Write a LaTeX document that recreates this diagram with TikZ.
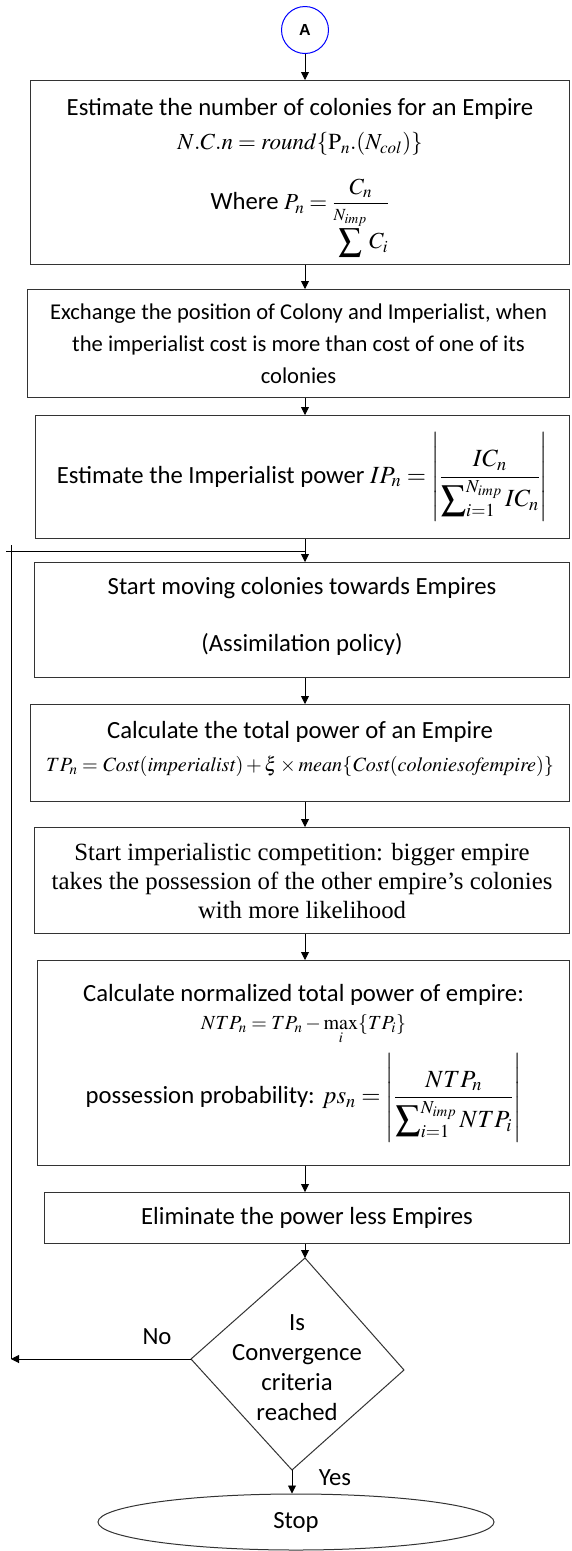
\documentclass[tikz,border=0pt]{standalone}
\usepackage{amsmath}
\usepackage{mathptmx}
\usepackage[no-math]{fontspec}
\setmainfont{Carlito}
\newfontfamily\timesfont{Liberation Serif}
\newfontfamily\arialfont{Liberation Sans}
\usepackage{graphicx}
\usetikzlibrary{shapes.geometric,arrows.meta}
\tikzset{
  box/.style={draw=black!80, line width=1.1pt, rectangle, anchor=north west, align=center, inner sep=0pt,
    font=\fontsize{24.7}{31}\selectfont},
  arr/.style={draw=black, line width=0.9pt, -{Triangle[length=8pt,width=8pt]}},
  ln/.style={draw=black, line width=0.9pt},
  lbl/.style={font=\fontsize{24.7}{28}\selectfont, inner sep=0pt},
}
\begin{document}
\begin{tikzpicture}[x=1pt,y=-1pt]
\useasboundingbox (0,0) rectangle (571,1551);
\fill[white] (0,0) rectangle (571,1551);

\node[circle, draw=blue, line width=1pt, minimum size=47pt, inner sep=0pt,
  font=\arialfont\bfseries\fontsize{16}{16}\selectfont] (A) at (305,30) {A};

\node[box, minimum width=539pt, minimum height=184pt] (b1) at (30,80)
  {\rule{0pt}{28pt}Estimate the number of colonies for an Empire\\[3pt]
   {\fontsize{23}{28}\selectfont$N.C.n = round\{\mathrm{P}_n.(N_{col})\}$}\\[22pt]
   Where {\fontsize{23}{28}\selectfont$P_n = \dfrac{C_n}{\displaystyle\sum^{N_{imp}} C_i}$}};

\node[box, minimum width=542pt, minimum height=108pt, font=\fontsize{22.6}{32}\selectfont] (b2) at (27,289)
  {Exchange the position of Colony and Imperialist, when\\
   the imperialist cost is more than cost of one of its\\
   colonies};

\node[box, minimum width=534pt, minimum height=123pt] (b3) at (35,415)
  {Estimate the Imperialist power $IP_n = \left|\dfrac{\displaystyle IC_n}{\displaystyle\sum\nolimits_{i=1}^{N_{imp}} IC_n}\right|$};

\node[box, minimum width=535pt, minimum height=115pt] (b4) at (34,562)
  {Start moving colonies towards Empires\\[26pt]
   (Assimilation policy)\rule[-12pt]{0pt}{1pt}};

\node[box, minimum width=539pt, minimum height=97pt] (b5) at (30,704)
  {Calculate the total power of an Empire\\[2pt]
   \resizebox{508pt}{!}{\fontsize{22}{26}\selectfont$TP_n = \mathit{Cost}(\mathit{imperialist})+\xi\times \mathit{mean}\{\mathit{Cost}(\mathit{coloniesofempire})\}$}\rule[-14pt]{0pt}{1pt}};

\node[box, minimum width=535pt, minimum height=106pt, font=\timesfont\fontsize{24.8}{29}\selectfont] (b6) at (34,827)
  {Start imperialistic competition: bigger empire\\
   takes the possession of the other empire’s colonies\\
   with more likelihood};

\node[box, minimum width=532pt, minimum height=205pt] (b7) at (37,960)
  {Calculate normalized total power of empire:\\[-3pt]
   {\fontsize{20}{24}\selectfont$NTP_n = TP_n - \max\limits_i\{TP_i\}$}\\[8pt]
   possession probability: $ps_n = \left|\dfrac{\displaystyle NTP_n}{\displaystyle\sum\nolimits_{i=1}^{N_{imp}} NTP_i}\right|$};

\node[box, minimum width=525pt, minimum height=51pt] (b8) at (44,1192)
  {Eliminate the power less Empires};

\coordinate (dt) at (305,1258);
\coordinate (dr) at (404,1370);
\coordinate (db) at (292,1470);
\coordinate (dl) at (191,1359);
\draw[draw=black!80, line width=1pt] (dt) -- (dr) -- (db) -- (dl) -- cycle;
\node[align=center, font=\fontsize{24.7}{30}\selectfont, inner sep=0pt] (dtext) at (297,1368)
  {Is\\Convergence\\criteria\\reached};

\node[ellipse, draw=black!80, line width=1pt, minimum width=396pt, minimum height=56pt, inner sep=0pt,
  font=\fontsize{24.7}{28}\selectfont] (stop) at (296,1522) {Stop};

\node[lbl] (no) at (157,1337) {No};
\node[lbl] (yes) at (335,1478) {Yes};

\draw[arr] (A) -- (A |- b1.north);
\draw[arr] (b1.south -| A) -- (b2.north -| A);
\draw[arr] (b2.south -| A) -- (b3.north -| A);
\draw[arr] (b3.south -| A) -- (b4.north -| A);
\draw[arr] (b4.south -| A) -- (b5.north -| A);
\draw[arr] (b5.south -| A) -- (b6.north -| A);
\draw[arr] (b6.south -| A) -- (b7.north -| A);
\draw[arr] (b7.south -| A) -- (b8.north -| A);
\draw[arr] (b8.south -| A) -- (dt);
\draw[arr] (db) -- (db |- stop.north);

\coordinate (j) at (305,551);
\coordinate (lt1) at (11,545);
\coordinate (lt2) at (6,551);
\coordinate (lb) at (11,1359);
\draw[arr] (dl) -- (lb);
\draw[ln] (lb) -- (lt1);
\draw[ln] (lt2) -- (j);
\end{tikzpicture}
\end{document}
